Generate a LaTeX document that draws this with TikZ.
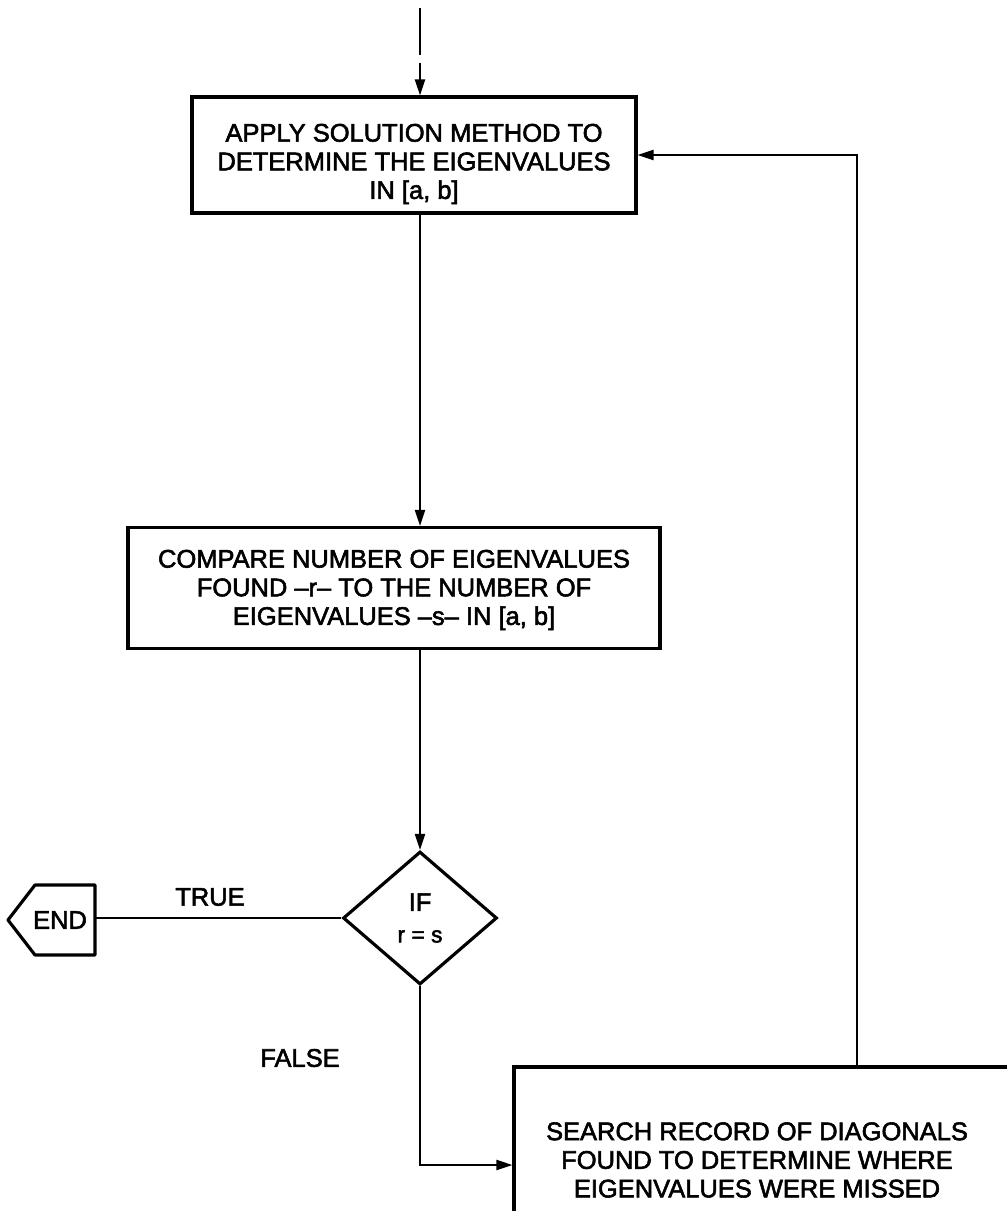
\documentclass[tikz,border=0pt]{standalone}
\usepackage{fontspec}
\setmainfont{Liberation Sans}[FakeBold=2.2]
\usetikzlibrary{arrows.meta,shapes.geometric}
\tikzset{
  boxline/.style={draw, line width=1.8pt, inner sep=0pt},
  txt/.style={inner sep=0pt, align=center, font=\fontsize{14.5pt}{16.3pt}\selectfont},
  conn/.style={line width=1.1pt},
  arr/.style={conn, -{Triangle[length=0.32cm, width=0.2cm]}},
  decis/.style={draw, diamond, line width=1.8pt, inner sep=0pt, align=center,
    minimum width=3.08cm, minimum height=2.66cm, font=\fontsize{14.5pt}{16pt}\selectfont},
}
\begin{document}
\begin{tikzpicture}[x=0.02cm, y=-0.02cm]
\path[use as bounding box, clip] (0,0) rectangle (1007,1211);
\fill[white] (0,0) rectangle (1007,1211);

\coordinate (top) at (420,8);
\coordinate (gap1) at (420,55);
\coordinate (gap2) at (420,63);

\node[boxline, minimum width=8.88cm, minimum height=2.32cm] (box1) at (414,155) {};
\node[txt] (box1t) at (414,164)
  {APPLY SOLUTION METHOD TO\\DETERMINE THE EIGENVALUES\\IN [a, b]};
\node[boxline, minimum width=10.64cm, minimum height=2.42cm] (box2) at (394,588) {};
\node[txt] (box2t) at (394,590)
  {COMPARE NUMBER OF EIGENVALUES\\FOUND --r-- TO THE NUMBER OF\\EIGENVALUES --s-- IN [a, b]};
\node[decis] (dec) at (420,918) {IF\\[2pt] {\fontsize{13pt}{14pt}\selectfont r = s}};

% END terminal
\coordinate (endr) at (95,918);
\node[txt] (endt) at (60,920) {END};
\draw[line width=1.8pt, line join=round] (8,920) -- (35,885) -- (95,885) -- (95,955) -- (35,955) -- cycle;

% box 3 (running off the page)
\node[boxline, minimum width=10.52cm, minimum height=3.92cm] (box3) at (777,1165) {};
\node[txt] (box3t) at (757,1160)
  {SEARCH RECORD OF DIAGONALS\\FOUND TO DETERMINE WHERE\\EIGENVALUES WERE MISSED};
\coordinate (fb) at (857,1067);

% connectors
\draw[conn] (top) -- (gap1);
\draw[arr] (gap2) -- (box1.north -| top);
\draw[arr] (box1.south -| top) -- (box2.north -| top);
\draw[arr] (box2.south -| top) -- (dec.north);
\draw[conn] (dec.west) -- (endr);
\draw[arr] (dec.south) |- (box3.west);
\draw[arr] (fb) |- (box1.east);

% labels
\node[txt] (ltrue) at (210,897) {TRUE};
\node[txt] (lfalse) at (300,1058) {FALSE};
\end{tikzpicture}
\end{document}
